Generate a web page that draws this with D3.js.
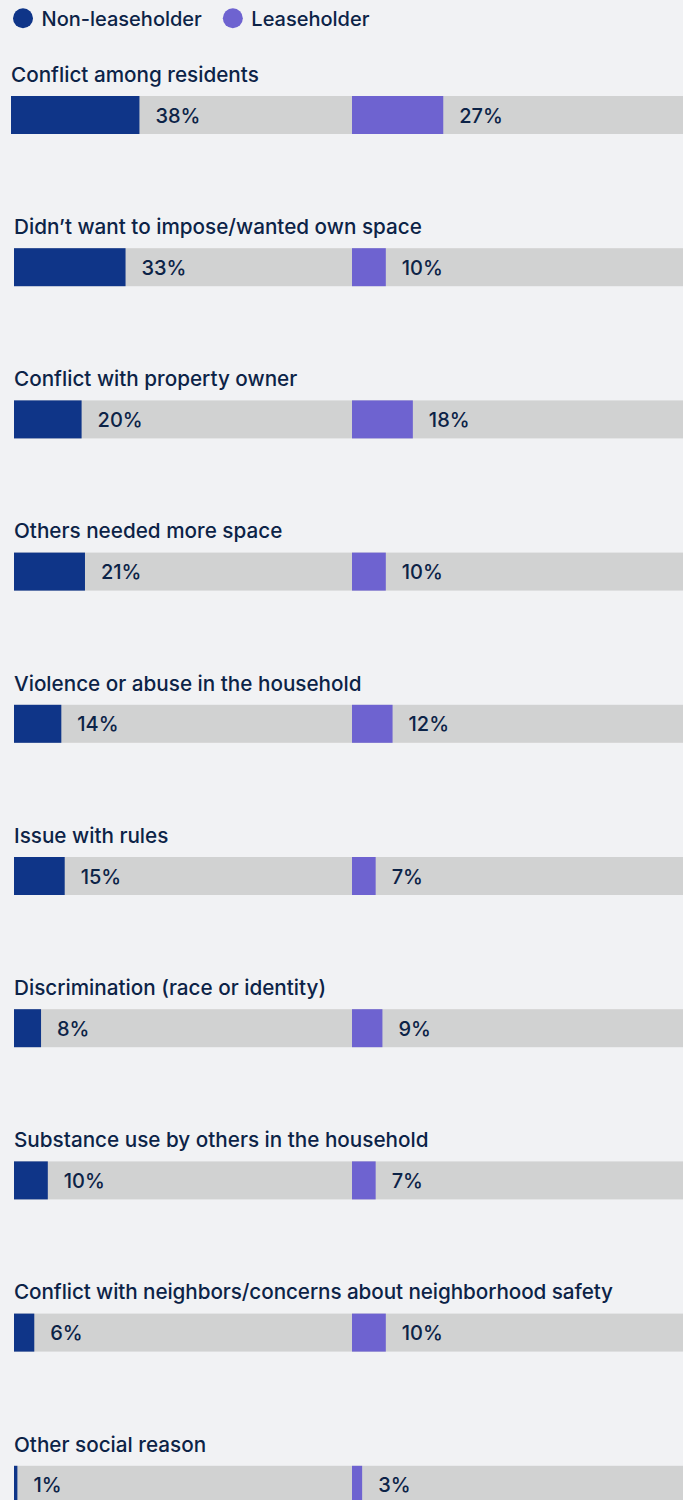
<!DOCTYPE html>
<html>
<head>
<meta charset="utf-8">
<script src="https://cdn.jsdelivr.net/npm/d3@7"></script>
<style>
  html, body { margin: 0; padding: 0; background: #f1f2f4; }
  svg { display: block; font-family: Inter, "Liberation Sans", sans-serif; font-weight: 500; }
</style>
</head>
<body>
<svg id="chart" width="683" height="1500"></svg>
<script>
const categories = [
  "Conflict among residents",
  "Didn\u2019t want to impose/wanted own space",
  "Conflict with property owner",
  "Others needed more space",
  "Violence or abuse in the household",
  "Issue with rules",
  "Discrimination (race or identity)",
  "Substance use by others in the household",
  "Conflict with neighbors/concerns about neighborhood safety",
  "Other social reason"
];
const nonLeaseholder = [38, 33, 20, 21, 14, 15, 8, 10, 6, 1];
const leaseholder = [27, 10, 18, 10, 12, 7, 9, 7, 10, 3];
const seriesNames = ["Non-leaseholder", "Leaseholder"];
const colors = ["#0f3588", "#6e63d0"];

const textColor = "#0c2347";
const trackColor = "#d1d2d2";
const fontSize = 20;
const labelSize = 20.7;

const svg = d3.select("#chart");

// legend
const legend = svg.append("g");
let lx = 13;
seriesNames.forEach((name, i) => {
  const g = legend.append("g").attr("transform", `translate(${lx},0)`);
  g.append("circle").attr("cx", 10).attr("cy", 18.3).attr("r", 10).attr("fill", colors[i]);
  const t = g.append("text")
    .attr("x", 28.5).attr("y", 25.7)
    .attr("fill", textColor)
    .style("font-size", fontSize + "px")
    .text(name);
  lx += 28.5 + t.node().getComputedTextLength() + 21;
});

const x = d3.scaleLinear().domain([0, 100]).range([0, 338]);
const y = d3.scaleBand().domain(categories).range([96, 96 + 152.2 * categories.length]).paddingInner(0).paddingOuter(0);
const barH = 38;
const col2 = 352;

const rows = svg.selectAll("g.row")
  .data(categories.map((c, i) => ({ c, i, a: nonLeaseholder[i], b: leaseholder[i] })))
  .join("g")
  .attr("class", "row")
  .attr("transform", d => `translate(0,${y(d.c)})`);

const left = d => d.i === 0 ? 11 : 14;

rows.append("text")
  .attr("x", left)
  .attr("y", -14.3)
  .attr("fill", textColor)
  .style("font-size", labelSize + "px")
  .text(d => d.c)
  .each(function () {
    // the longest label is squeezed to fit the column in the original
    if (this.getComputedTextLength() > 599) this.setAttribute("textLength", 599);
  });

// tracks
rows.append("rect")
  .attr("x", left)
  .attr("width", d => col2 - left(d))
  .attr("height", barH)
  .attr("fill", trackColor);
rows.append("rect")
  .attr("x", col2)
  .attr("width", x(100))
  .attr("height", barH)
  .attr("fill", trackColor);

// bars
rows.append("rect")
  .attr("x", left)
  .attr("width", d => x(d.a))
  .attr("height", barH)
  .attr("fill", colors[0]);
rows.append("rect")
  .attr("x", col2)
  .attr("width", d => x(d.b))
  .attr("height", barH)
  .attr("fill", colors[1]);

// value labels
const gap = 16;
rows.append("text")
  .attr("x", d => left(d) + x(d.a) + gap)
  .attr("y", barH / 2 + 7.5)
  .attr("fill", textColor)
  .style("font-size", fontSize + "px")
  .text(d => d.a + "%");
rows.append("text")
  .attr("x", d => col2 + x(d.b) + gap)
  .attr("y", barH / 2 + 7.5)
  .attr("fill", textColor)
  .style("font-size", fontSize + "px")
  .text(d => d.b + "%");
</script>
</body>
</html>
